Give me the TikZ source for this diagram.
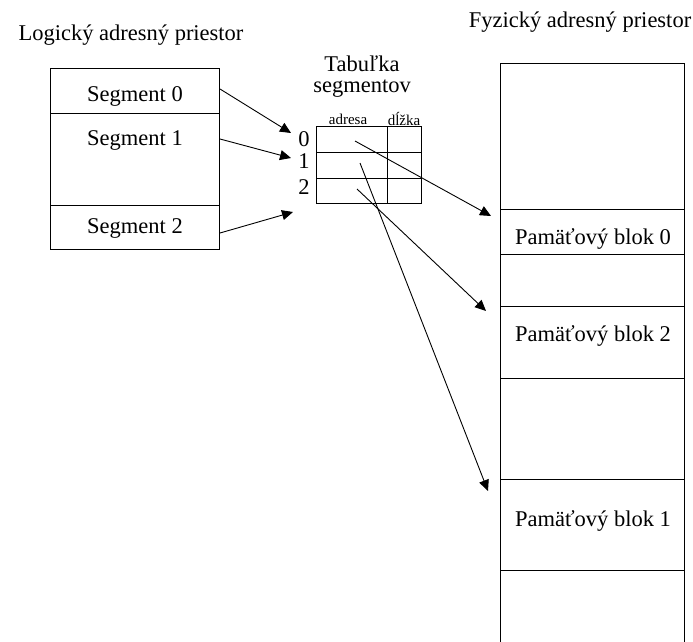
\documentclass[tikz,border=0pt]{standalone}
\usepackage{fontspec}
\setmainfont{Liberation Serif}
\usetikzlibrary{arrows.meta}
\begin{document}
\begin{tikzpicture}[x=1pt,y=-1pt,
  box/.style={draw,line width=0.9pt,inner sep=0pt,anchor=north west},
  lbl/.style={inner sep=0pt,font=\fontsize{22.5}{26}\selectfont},
  small/.style={inner sep=0pt,font=\fontsize{15}{18}\selectfont},
  arr/.style={line width=0.9pt,-{Triangle[length=11pt,width=10pt]}}]
\useasboundingbox (0,0) rectangle (693,642);
% headers
\node[lbl] (hlog) at (131,35) {Logický adresný priestor};
\node[lbl] (hfyz) at (580,22) {Fyzický adresný priestor};
\node[lbl] (htab1) at (362,64) {Tabuľka};
\node[lbl] (htab2) at (362,89) {segmentov};
% logical space
\node[box,minimum width=169pt,minimum height=45pt] (seg0) at (50,68) {};
\node[box,minimum width=169pt,minimum height=92pt] (seg1) at (50,113) {};
\node[box,minimum width=169pt,minimum height=44pt] (seg2) at (50,205) {};
\node[lbl] (t0) at (135,96) {Segment 0};
\node[lbl] (t1) at (135,140) {Segment 1};
\node[lbl] (t2) at (135,228) {Segment 2};
% segment table
\node[box,minimum width=71pt,minimum height=26pt] (r0a) at (316,126) {};
\node[box,minimum width=34pt,minimum height=26pt] (r0b) at (387,126) {};
\node[box,minimum width=71pt,minimum height=26pt] (r1a) at (316,152) {};
\node[box,minimum width=34pt,minimum height=26pt] (r1b) at (387,152) {};
\node[box,minimum width=71pt,minimum height=25pt] (r2a) at (316,178) {};
\node[box,minimum width=34pt,minimum height=25pt] (r2b) at (387,178) {};
\node[small] (hadr) at (348,119) {adresa};
\node[small] (hdl) at (404,119) {dĺžka};
\node[lbl] (n0) at (304,139) {0};
\node[lbl] (n1) at (304,161) {1};
\node[lbl] (n2) at (304,187) {2};
% physical space
\draw[line width=0.9pt] (500,642) -- (500,63) -- (684,63) -- (684,642);
\node[box,minimum width=184pt,minimum height=146pt] (m0) at (500,63) {};
\node[box,minimum width=184pt,minimum height=45pt] (pb0) at (500,209) {};
\node[box,minimum width=184pt,minimum height=52pt] (m1) at (500,254) {};
\node[box,minimum width=184pt,minimum height=72pt] (pb2) at (500,306) {};
\node[box,minimum width=184pt,minimum height=101pt] (m2) at (500,378) {};
\node[box,minimum width=184pt,minimum height=91pt] (pb1) at (500,479) {};
\node[lbl] (tb0) at (593,239) {Pamäťový blok 0};
\node[lbl] (tb2) at (593,336) {Pamäťový blok 2};
\node[lbl] (tb1) at (593,521) {Pamäťový blok 1};
% connector endpoints
\coordinate (s0o) at (220,89);
\coordinate (s1o) at (220,139);
\coordinate (s2o) at (220,233);
\coordinate (e0) at (291,133);
\coordinate (e1) at (291,158);
\coordinate (e2) at (293,212);
\coordinate (a0) at (355,141);
\coordinate (a1) at (360,163);
\coordinate (a2) at (357,189);
\coordinate (b0) at (491,216);
\coordinate (b1) at (488,491);
\coordinate (b2) at (486,311);
\draw[arr] (s0o) -- (e0);
\draw[arr] (s1o) -- (e1);
\draw[arr] (s2o) -- (e2);
\draw[arr] (a0) -- (b0);
\draw[arr] (a1) -- (b1);
\draw[arr] (a2) -- (b2);
\end{tikzpicture}
\end{document}
